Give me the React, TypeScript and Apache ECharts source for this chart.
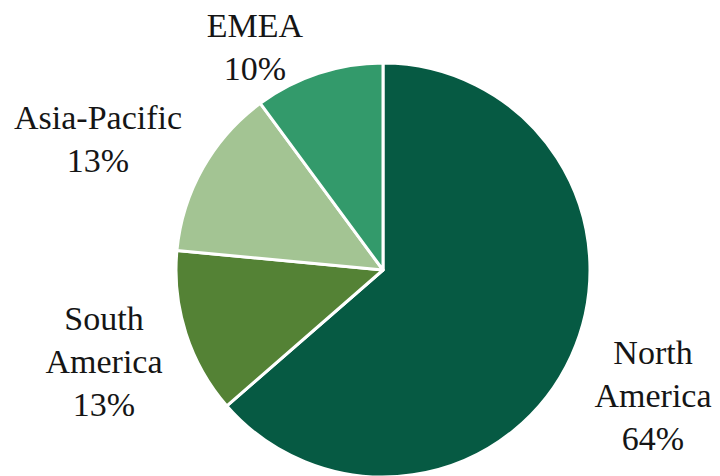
import React, { useEffect, useRef } from "react";
import * as echarts from "echarts";

const categories = ["North America", "South America", "Asia-Pacific", "EMEA"];
const shares = [63.6, 12.9, 13.4, 10.1];
const colors = ["#065a43", "#548235", "#a3c493", "#339a6b"];
const labelText = ["North\nAmerica", "South\nAmerica", "Asia-Pacific", "EMEA"];
const labelPos: [number, number][] = [
  [653, 395],
  [104, 361],
  [98, 139],
  [255, 47],
];

const FONT = "Liberation Serif";

export default function App() {
  const ref = useRef<HTMLDivElement>(null);
  useEffect(() => {
    if (!ref.current) return;
    const chart = echarts.init(ref.current, null, { renderer: "svg" });
    chart.setOption({
      animation: false,
      backgroundColor: "#ffffff",
      textStyle: { fontFamily: FONT },
      series: [
        {
          type: "pie",
          center: [383, 270],
          radius: 207,
          startAngle: 90,
          clockwise: true,
          data: categories.map((c, i) => ({
            name: c,
            value: shares[i],
            itemStyle: { color: colors[i] },
          })),
          itemStyle: { borderColor: "#ffffff", borderWidth: 3 },
          label: {
            show: true,
            position: "outside",
            formatter: (p: any) =>
              `{t|${labelText[p.dataIndex]}\n${Math.round(p.value)}%}`,
            rich: {
              t: {
                fontFamily: FONT,
                fontSize: 34,
                lineHeight: 43,
                color: "#151515",
                align: "center",
              },
            },
            fontFamily: FONT,
            fontSize: 34,
            lineHeight: 43,
            color: "#151515",
            align: "center",
            overflow: "none",
            width: 300,
          },
          labelLine: { show: false },
          labelLayout: (p: any) => ({
            x: labelPos[p.dataIndex][0],
            y: labelPos[p.dataIndex][1],
            align: "center",
            verticalAlign: "middle",
            hideOverlap: false,
          }),
          emphasis: { disabled: true },
        },
      ],
    });
    return () => chart.dispose();
  }, []);
  return (
    <div
      ref={ref}
      style={{ position: "fixed", left: 0, top: 0, width: 720, height: 476 }}
    />
  );
}
